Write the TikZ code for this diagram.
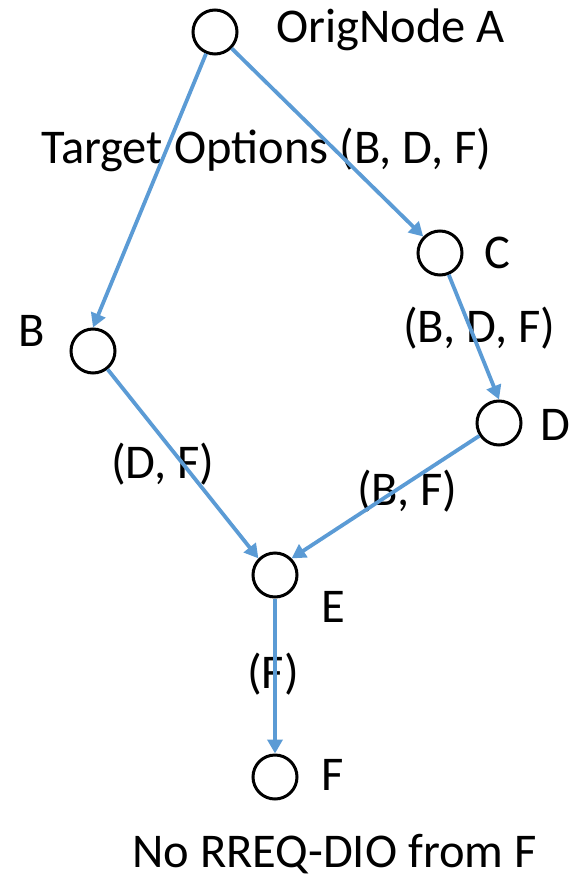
\documentclass[tikz,border=0pt]{standalone}
\usepackage{fontspec}
\setmainfont{Carlito}
\usetikzlibrary{arrows.meta}
\definecolor{linkblue}{RGB}{91,155,213}
\begin{document}
\begin{tikzpicture}[x=1pt,y=-1pt,every node/.style={font=\fontsize{48.5}{58}\selectfont},
  vertex/.style={draw,circle,line width=3pt,minimum size=44pt,inner sep=0pt},
  lbl/.style={anchor=base west,inner sep=0pt},
  link/.style={draw=linkblue,line width=3.8pt,-{Triangle[length=14pt,width=15pt]}}]
\useasboundingbox (0,0) rectangle (577,880);
\node[vertex] (A) at (215,32){};
\node[vertex] (C) at (440,253){};
\node[vertex] (B) at (93,351){};
\node[vertex] (D) at (499,423){};
\node[vertex] (E) at (275,575){};
\node[vertex] (F) at (275,777){};
\node[lbl] (lA) at (276,43){OrigNode A};
\node[lbl] (lAopt) at (41,163){Target Options (B, D, F)};
\node[lbl] (lC) at (484,268){C};
\node[lbl] (lCopt) at (403,342){(B, D, F)};
\node[lbl] (lB) at (18,346){B};
\node[lbl] (lD) at (540,440){D};
\node[lbl] (lBopt) at (111,478){(D, F)};
\node[lbl] (lDopt) at (357,505){(B, F)};
\node[lbl] (lE) at (321,622){E};
\node[lbl] (lEopt) at (247,688){(F)};
\node[lbl] (lF) at (321,790){F};
\node[lbl] (lnote) at (132,867){No RREQ-DIO from F};
\draw[link] (A)--(B.north);
\draw[link] (A)--(C);
\draw[link] (C)--(D.north);
\draw[link] (D)--(E.north east);
\draw[link] (B)--(E.north west);
\draw[link] (E)--(F);
\end{tikzpicture}
\end{document}
